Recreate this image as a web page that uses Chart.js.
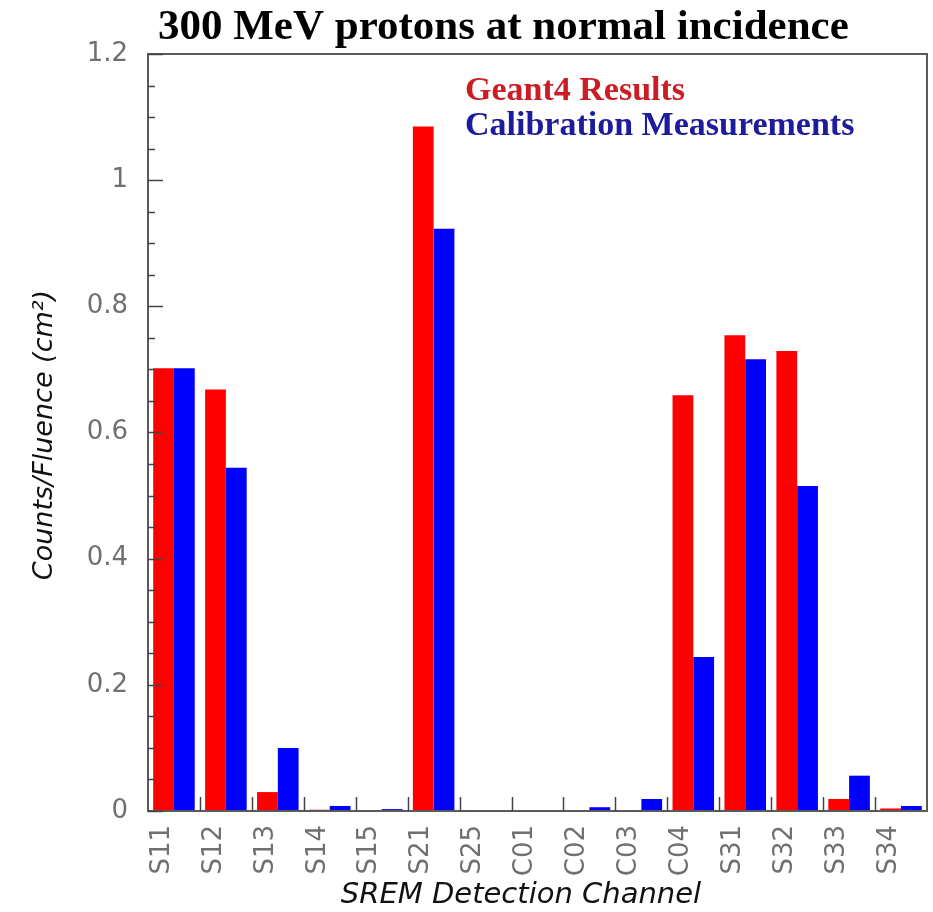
<!DOCTYPE html>
<html>
<head>
<meta charset="utf-8">
<script src="https://cdn.jsdelivr.net/npm/chart.js@4.4.1/dist/chart.umd.min.js"></script>
<style>
  html, body { margin: 0; padding: 0; background: #fff; overflow: hidden; }
  #wrap { width: 933px; height: 912px; position: relative; }
</style>
</head>
<body>
<div id="wrap"><canvas id="bars"></canvas></div>
<script>
// SREM channels
var channels = ['S11', 'S12', 'S13', 'S14', 'S15', 'S21', 'S25', 'C01', 'C02', 'C03', 'C04', 'S31', 'S32', 'S33', 'S34'];

// Geant4 Results
var geant4 = [0.702, 0.668, 0.030, 0.002, 0.000, 1.085, 0.000, 0.000, 0.000, 0.000, 0.659, 0.754, 0.729, 0.019, 0.004];

// Calibration Measurements
var calibration = [0.702, 0.544, 0.100, 0.008, 0.003, 0.923, 0.000, 0.000, 0.006, 0.019, 0.244, 0.716, 0.515, 0.056, 0.008];

var yTicks = [0, 0.2, 0.4, 0.6, 0.8, 1, 1.2];

var chartTitle = '300 MeV protons at normal incidence';
var xTitle = 'SREM Detection Channel';
var yTitle = 'Counts/Fluence (cm\u00B2)';

var tickGray = '#707070';
var frameGray = '#5a5a5a';

// frame, inward ticks, titles and the text legend
const framePlugin = {
  id: 'frame',
  afterDraw(chart) {
    const c = chart.ctx;
    const a = chart.chartArea;
    const xs = chart.scales.x;
    const ys = chart.scales.y;
    c.save();

    // box
    c.strokeStyle = frameGray;
    c.lineWidth = 2;
    c.strokeRect(a.left, a.top, a.right - a.left, a.bottom - a.top);

    // y ticks, major every 0.2 and minor every 0.05
    c.strokeStyle = '#444';
    c.lineWidth = 1.5;
    for (var k = 0; k <= 24; k++) {
      var v = k * 0.05;
      var py = Math.round(ys.getPixelForValue(v)) + 0.5;
      var len = (k % 4 === 0) ? 15 : 7;
      c.beginPath();
      c.moveTo(a.left, py);
      c.lineTo(a.left + len, py);
      c.stroke();
    }

    // x ticks at the category boundaries
    var step = xs.getPixelForValue(1) - xs.getPixelForValue(0);
    for (var i = 1; i < channels.length; i++) {
      var px = Math.round(xs.getPixelForValue(i) - step / 2) + 0.5;
      c.beginPath();
      c.moveTo(px, a.bottom);
      c.lineTo(px, a.bottom - 14);
      c.stroke();
    }

    // main title
    c.fillStyle = '#000';
    c.font = 'bold 43px "Liberation Serif", "Times New Roman", serif';
    c.textAlign = 'left';
    c.textBaseline = 'alphabetic';
    c.fillText(chartTitle, 158, 39);

    // legend as coloured text
    c.font = 'bold 34px "Liberation Serif", "Times New Roman", serif';
    var ds = chart.data.datasets;
    c.fillStyle = '#cc1c24';
    c.fillText(ds[0].label, 465, 100);
    c.fillStyle = '#1c1c9c';
    c.fillText(ds[1].label, 465, 135);

    // axis titles
    c.fillStyle = '#111';
    c.font = 'italic 29px "DejaVu Sans", sans-serif';
    c.textAlign = 'center';
    c.fillText(xTitle, 521, 903);

    c.translate(52, 435);
    c.rotate(-Math.PI / 2);
    c.font = 'italic 27px "DejaVu Sans", sans-serif';
    c.fillText(yTitle, 0, 0);

    c.restore();
  }
};

const ctx = document.getElementById('bars').getContext('2d');
const barChart = new Chart(ctx, {
  type: 'bar',
  data: {
    labels: channels,
    datasets: [{
      label: 'Geant4 Results',
      data: geant4,
      backgroundColor: '#ff0000',
      borderWidth: 0
    }, {
      label: 'Calibration Measurements',
      data: calibration,
      backgroundColor: '#0000ff',
      borderWidth: 0
    }]
  },
  options: {
    responsive: true,
    maintainAspectRatio: false,
    animation: false,
    categoryPercentage: 0.8,
    barPercentage: 1.0,
    layout: { padding: { left: 0, top: 54, right: 6, bottom: 0 } },
    plugins: {
      legend: { display: false },
      title: { display: false },
      tooltip: { enabled: false }
    },
    scales: {
      x: {
        offset: true,
        grid: { display: false, drawTicks: false },
        border: { display: false },
        ticks: {
          minRotation: 90,
          maxRotation: 90,
          padding: 14,
          labelOffset: -12,
          color: tickGray,
          font: { family: '"DejaVu Sans", sans-serif', size: 26 }
        },
        afterFit: function (scale) {
          scale.height = 101;
          scale.paddingLeft = 0;
          scale.paddingRight = 0;
        }
      },
      y: {
        min: 0,
        max: 1.2,
        grid: { display: false, drawTicks: false },
        border: { display: false },
        afterBuildTicks: function (scale) {
          scale.ticks = yTicks.map(function (v) { return { value: v }; });
        },
        ticks: {
          padding: 20,
          color: tickGray,
          font: { family: '"DejaVu Sans", sans-serif', size: 26 },
          callback: function (v) { return String(+v.toFixed(1)); }
        },
        afterFit: function (scale) {
          scale.width = 148;
          scale.paddingTop = 0;
          scale.paddingBottom = 0;
        }
      }
    }
  },
  plugins: [framePlugin]
});
</script>
</body>
</html>
